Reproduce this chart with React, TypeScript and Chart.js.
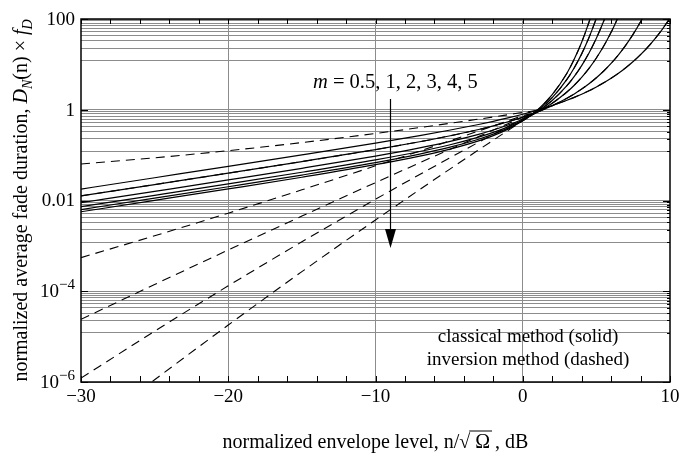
import React, { useEffect, useRef } from "react";
import { Chart, registerables } from "chart.js";

Chart.register(...registerables);

// envelope level, dB
const levelDb = [-30, -25, -20, -15, -10, -7, -5, -3, -2, -1, 0, 1, 2, 3, 3.5, 4, 4.5, 5, 5.5, 6, 6.5, 7, 7.5, 8, 8.5, 9, 9.5, 10];

// classical method (solid)
const classicalM05 = [0.01785, 0.03176, 0.05651, 0.1014, 0.1845, 0.2695, 0.3529, 0.4733, 0.5555, 0.6598, 0.7959, 0.9792, 1.236, 1.615, 1.874, 2.202, 2.624, 3.178, 3.92, 4.937, 6.371, 8.455, 11.56, 16.38, 24.18, 37.36, 60.76, 104.8];
const classicalM1 = [0.01262, 0.02247, 0.04009, 0.07208, 0.1327, 0.1972, 0.2639, 0.3667, 0.4417, 0.5429, 0.6855, 0.8966, 1.229, 1.795, 2.235, 2.852, 3.743, 5.076, 7.148, 10.52, 16.25, 26.58, 46.4, 87.18, 177.9, null, null, null];
const classicalM2 = [0.008927, 0.0159, 0.0284, 0.05124, 0.09546, 0.1446, 0.1981, 0.2872, 0.3575, 0.46, 0.6191, 0.8873, 1.388, 2.458, 3.475, 5.171, 8.166, 13.82, 25.31, 50.81, 113.2, null, null, null, null, null, null, null];
const classicalM3 = [0.007289, 0.01298, 0.02321, 0.04195, 0.07864, 0.1203, 0.1671, 0.2486, 0.3163, 0.42, 0.593, 0.9143, 1.604, 3.394, 5.429, 9.401, 17.86, 37.79, 90.42, 248.7, null, null, null, null, null, null, null, null];
const classicalM4 = [0.006313, 0.01125, 0.02011, 0.03639, 0.06848, 0.1055, 0.1478, 0.2239, 0.2895, 0.394, 0.5784, 0.9507, 1.853, 4.666, 8.439, 17.03, 39.01, 103.4, null, null, null, null, null, null, null, null, null, null];
const classicalM5 = [0.005647, 0.01006, 0.01799, 0.03258, 0.06148, 0.0951, 0.1342, 0.206, 0.2697, 0.3747, 0.5689, 0.9907, 2.155, 6.387, 13.07, 30.76, 85.12, 283.3, null, null, null, null, null, null, null, null, null, null];

// inversion method (dashed)
const inversionM05 = [0.0638, 0.0873, 0.1253, 0.189, 0.2997, 0.4046, 0.499, 0.6205, 0.693, 0.7776, 0.873, 0.9792, 1.236, 1.615, 1.874, 2.202, 2.624, 3.178, 3.92, 4.937, 6.371, 8.455, 11.56, 16.38, 24.18, 37.36, 60.76, 104.8];
const inversionM1 = [0.01262, 0.02247, 0.04009, 0.07208, 0.1327, 0.1972, 0.2639, 0.3667, 0.4417, 0.5429, 0.6855, 0.8966, 1.229, 1.795, 2.235, 2.852, 3.743, 5.076, 7.148, 10.52, 16.25, 26.58, 46.4, 87.18, 177.9, null, null, null];
const inversionM2 = [0.00055, 0.00167, 0.00526, 0.01718, 0.0581, 0.1227, 0.2037, 0.3396, 0.4395, 0.5697, 0.74, 0.8873, 1.388, 2.458, 3.475, 5.171, 8.166, 13.82, 25.31, 50.81, 113.2, null, null, null, null, null, null, null];
const inversionM3 = [0.000024, 0.000141, 0.00081, 0.00454, 0.0248, 0.0678, 0.132, 0.256, 0.356, 0.494, 0.686, 0.9143, 1.604, 3.394, 5.429, 9.401, 17.86, 37.79, 90.42, 248.7, null, null, null, null, null, null, null, null];
const inversionM4 = [0.000001216, 0.00001315, 0.0001318, 0.00123, 0.01064, 0.0374, 0.0853, 0.1923, 0.2874, 0.4285, 0.637, 0.9507, 1.853, 4.666, 8.439, 17.03, 39.01, 103.4, null, null, null, null, null, null, null, null, null, null];
const inversionM5 = [0.000000064, 0.00000112, 0.000018, 0.00027, 0.00373, 0.01742, 0.048, 0.1303, 0.214, 0.35, 0.571, 0.9907, 2.155, 6.387, 13.07, 30.76, 85.12, 283.3, null, null, null, null, null, null, null, null, null, null];

const mLabels = ["0.5", "1", "2", "3", "4", "5"];

const xTickValues = [-30, -20, -10, 0, 10];
const xTickLabels = ["\u221230", "\u221220", "\u221210", "0", "10"];
const xMinorTicks = [-28, -26, -24, -22, -18, -16, -14, -12, -8, -6, -4, -2, 2, 4, 6, 8];
const xGridValues = [-20, -10, 0];

const yTickValues = [100, 1, 0.01, 1e-4, 1e-6];
const yTickBases = ["100", "1", "0.01", "10", "10"];
const yTickExps = ["", "", "", "\u22124", "\u22126"];
const gridDecades = [100, 1, 0.01, 1e-4];
const gridSteps = [1, 0.9078, 0.8143, 0.7204, 0.6251, 0.5285, 0.4305, 0.3301, 0.2277, 0.1202];

const FONT = '"Liberation Serif", "Times New Roman", serif';

function buildDatasets() {
  const solid = [classicalM05, classicalM1, classicalM2, classicalM3, classicalM4, classicalM5];
  const dashed = [inversionM05, inversionM1, inversionM2, inversionM3, inversionM4, inversionM5];
  const ds: any[] = [];
  solid.forEach((vals, i) => {
    ds.push({
      label: "classical m=" + mLabels[i],
      data: levelDb.map((x, k) => ({ x, y: vals[k] })),
      borderColor: "#000",
      borderWidth: 1.2,
      pointRadius: 0,
      fill: false,
      cubicInterpolationMode: "monotone",
      spanGaps: false,
    });
  });
  dashed.forEach((vals, i) => {
    ds.push({
      label: "inversion m=" + mLabels[i],
      data: levelDb.map((x, k) => ({ x, y: vals[k] })),
      borderColor: "#000",
      borderWidth: 1.1,
      borderDash: [9, 6],
      pointRadius: 0,
      fill: false,
      cubicInterpolationMode: "monotone",
      spanGaps: false,
    });
  });
  return ds;
}

function drawRich(ctx: CanvasRenderingContext2D, parts: { t: string; it?: boolean; sub?: boolean }[], x: number, y: number, size: number, align: "center" | "left") {
  const fontFor = (p: any) => `${p.it ? "italic " : ""}${p.sub ? Math.round(size * 0.72) : size}px ${FONT}`;
  let total = 0;
  const widths = parts.map((p) => {
    ctx.font = fontFor(p);
    const w = ctx.measureText(p.t).width;
    total += w;
    return w;
  });
  let cx = align === "center" ? x - total / 2 : x;
  parts.forEach((p, i) => {
    ctx.font = fontFor(p);
    ctx.fillText(p.t, cx, p.sub ? y + size * 0.3 : y);
    cx += widths[i];
  });
}

const decorPlugin = {
  id: "decor",
  afterDraw(chart: any) {
    const { ctx, chartArea: a, scales } = chart;
    const xs = scales.x;
    const ys = scales.y;
    ctx.save();
    ctx.strokeStyle = "#000";
    ctx.fillStyle = "#000";
    const seg = (x1: number, y1: number, x2: number, y2: number) => {
      ctx.beginPath();
      ctx.moveTo(x1, y1);
      ctx.lineTo(x2, y2);
      ctx.stroke();
    };
    // ticks
    ctx.lineWidth = 1;
    [...xMinorTicks, ...xTickValues].forEach((v) => {
      const px = Math.round(xs.getPixelForValue(v)) + 0.5;
      seg(px, a.bottom, px, a.bottom - 6);
      seg(px, a.top, px, a.top + 5);
    });
    yTickValues.forEach((v) => {
      const py = Math.round(ys.getPixelForValue(v)) + 0.5;
      seg(a.left, py, a.left + 7, py);
      seg(a.right, py, a.right - 7, py);
    });
    gridDecades.forEach((d) => {
      gridSteps.forEach((s) => {
        const py = Math.round(ys.getPixelForValue(d * s)) + 0.5;
        seg(a.right, py, a.right - 3, py);
      });
    });
    // frame
    ctx.lineWidth = 1.5;
    ctx.strokeRect(a.left, a.top, a.right - a.left, a.bottom - a.top);

    // y tick labels
    ctx.textBaseline = "middle";
    yTickValues.forEach((v, i) => {
      const py = ys.getPixelForValue(v);
      const right = a.left - 6;
      if (yTickExps[i]) {
        ctx.font = `15px ${FONT}`;
        ctx.textAlign = "right";
        ctx.fillText(yTickExps[i], right, py - 6);
        const ew = ctx.measureText(yTickExps[i]).width;
        ctx.font = `19px ${FONT}`;
        ctx.fillText(yTickBases[i], right - ew, py + 1);
      } else {
        ctx.font = `19px ${FONT}`;
        ctx.textAlign = "right";
        ctx.fillText(yTickBases[i], right, py + 1);
      }
    });
    // x tick labels
    ctx.font = `19px ${FONT}`;
    ctx.textAlign = "center";
    xTickValues.forEach((v, i) => {
      ctx.fillText(xTickLabels[i], xs.getPixelForValue(v), a.bottom + 15);
    });

    // x title
    const cxm = (a.left + a.right) / 2;
    ctx.textAlign = "left";
    ctx.font = `20px ${FONT}`;
    const p1 = "normalized envelope level, n/";
    const rad = "\u221A";
    const om = " \u03A9 ";
    const p3 = ", dB";
    const w1 = ctx.measureText(p1).width;
    const w2 = ctx.measureText(rad).width;
    const w3 = ctx.measureText(om).width;
    const w4 = ctx.measureText(p3).width;
    const tot = w1 + w2 + w3 + w4;
    let tx = cxm - tot / 2;
    const ty = a.bottom + 61;
    ctx.fillText(p1, tx, ty);
    tx += w1;
    ctx.fillText(rad, tx, ty);
    tx += w2;
    ctx.lineWidth = 1;
    seg(tx - 1, ty - 12, tx + w3 - 3, ty - 12);
    ctx.fillText(om, tx, ty);
    tx += w3;
    ctx.fillText(p3, tx, ty);

    // y title
    ctx.save();
    ctx.translate(22, (a.top + a.bottom) / 2);
    ctx.rotate(-Math.PI / 2);
    ctx.textBaseline = "middle";
    ctx.textAlign = "left";
    drawRich(
      ctx,
      [
        { t: "normalized average fade duration, " },
        { t: "D", it: true },
        { t: "N", it: true, sub: true },
        { t: "(n) \u00D7 " },
        { t: "f", it: true },
        { t: "D", it: true, sub: true },
      ],
      0,
      0,
      20,
      "center"
    );
    ctx.restore();

    // m annotation
    ctx.textBaseline = "middle";
    ctx.textAlign = "left";
    drawRich(ctx, [{ t: "m", it: true }, { t: " = " + mLabels.join(", ") }], 313, 83, 20.5, "left");

    // arrow
    ctx.lineWidth = 1.2;
    seg(390.5, 99, 390.5, 232);
    ctx.beginPath();
    ctx.moveTo(385, 229);
    ctx.lineTo(396, 229);
    ctx.lineTo(390.5, 248);
    ctx.closePath();
    ctx.fill();

    // legend text
    ctx.textAlign = "center";
    ctx.font = `19px ${FONT}`;
    ctx.fillText("classical method (solid)", 528, 337);
    ctx.fillText("inversion method (dashed)", 528, 360);
    ctx.restore();
  },
};

export default function App() {
  const ref = useRef<HTMLCanvasElement | null>(null);
  useEffect(() => {
    if (!ref.current) return;
    const chart = new Chart(ref.current, {
      type: "line",
      data: { datasets: buildDatasets() },
      options: {
        animation: false,
        responsive: false,
        devicePixelRatio: 1,
        layout: { padding: { left: 81, right: 27, top: 19, bottom: 74 } },
        plugins: { legend: { display: false }, tooltip: { enabled: false } },
        elements: { line: { tension: 0 } },
        scales: {
          x: {
            type: "linear",
            min: -30,
            max: 10,
            ticks: { display: false },
            border: { display: false },
            grid: {
              drawTicks: false,
              color: (c: any) => (xGridValues.includes(c.tick?.value) ? "#8c8c8c" : "rgba(0,0,0,0)"),
              lineWidth: 1,
            },
            afterBuildTicks: (s: any) => {
              s.ticks = xTickValues.map((v) => ({ value: v }));
            },
          },
          y: {
            type: "logarithmic",
            min: 1e-6,
            max: 100,
            ticks: { display: false },
            border: { display: false },
            grid: { drawTicks: false, color: "#8c8c8c", lineWidth: 1 },
            afterBuildTicks: (s: any) => {
              const t: any[] = [];
              gridDecades.forEach((d) => gridSteps.forEach((st) => t.push({ value: d * st })));
              t.push({ value: 1e-6 });
              s.ticks = t;
            },
          },
        },
      } as any,
      plugins: [decorPlugin],
    });
    return () => chart.destroy();
  }, []);
  return (
    <div style={{ position: "absolute", left: 0, top: 0, width: 697, height: 456, background: "#fff" }}>
      <canvas ref={ref} width={697} height={456} style={{ width: 697, height: 456 }} />
    </div>
  );
}
